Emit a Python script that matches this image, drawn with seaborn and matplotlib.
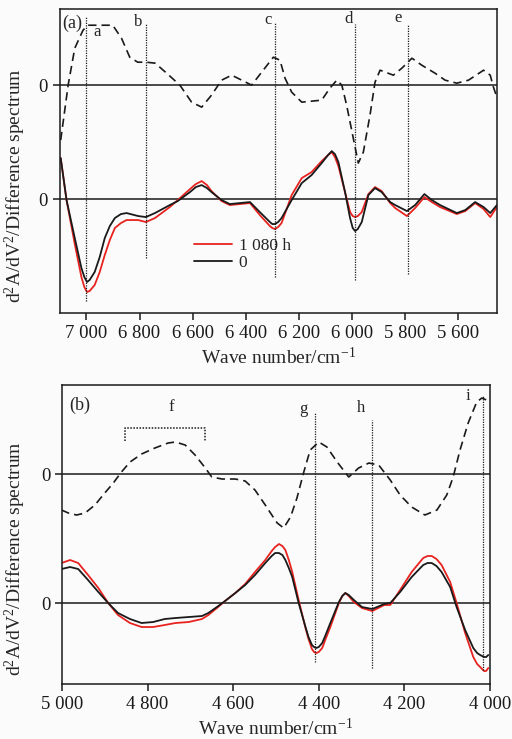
import matplotlib
matplotlib.use("Agg")
import matplotlib.pyplot as plt
import seaborn as sns
import numpy as np
from matplotlib.ticker import FuncFormatter
from matplotlib.lines import Line2D

# ---- panel (a): 7100-5450 cm-1 ----
wn_a = [7097, 7075, 7044, 7019, 7008, 6998, 6988, 6969, 6950, 6931, 6912, 6893,
        6870, 6849, 6805, 6776, 6742, 6686, 6656, 6610, 6588, 6566, 6546, 6529,
        6491, 6460, 6422, 6384, 6347, 6309, 6300, 6290, 6278, 6265, 6227, 6189,
        6152, 6114, 6090, 6076, 6064, 6051, 6026, 6007, 5997, 5988, 5978, 5963,
        5938, 5913, 5888, 5856, 5837, 5793, 5762, 5727, 5699, 5668, 5605, 5573,
        5536, 5504, 5479, 5454]
black_a = [41, -1, -39, -69, -78, -83, -81, -73, -58, -39, -27, -19,
           -15, -14, -17, -18, -14, -6, -2, 7, 12, 14, 11, 7,
           -1, -5, -4, -3, -13, -23, -25, -25, -23, -19, -1, 16,
           24, 36, 44, 48, 45, 37, 7, -19, -29, -32, -30, -23,
           4, 11, 7, -3, -6, -12, -6, 5, -1, -6, -14, -11,
           -3, -8, -14, -6]
red_a = [41, -1, -45, -78, -88, -93, -92, -86, -73, -56, -41, -29,
         -24, -21, -21, -23, -19, -8, -1, 10, 15, 18, 14, 8,
         -2, -6, -5, -4, -16, -27, -29, -30, -28, -24, 4, 21,
         27, 38, 44, 47, 42, 33, 7, -13, -17, -18, -17, -13,
         5, 12, 8, -4, -9, -17, -9, 2, -3, -8, -15, -12,
         -4, -10, -18, -8]
diff_wn_a = [7097, 7069, 7044, 7013, 6994, 6957, 6901, 6868, 6837, 6807, 6774,
             6741, 6698, 6648, 6604, 6566, 6529, 6491, 6453, 6415, 6378, 6340,
             6296, 6271, 6252, 6227, 6189, 6114, 6083, 6057, 6038, 6020, 5995,
             5976, 5957, 5932, 5913, 5894, 5844, 5812, 5774, 5737, 5687, 5649,
             5605, 5561, 5504, 5479, 5467, 5454]
diff_a = [-55, 0, 37, 55, 60, 60, 60, 47, 28, 23, 23,
          22, 12, 0, -17, -22, -10, 5, 10, 5, 0, 13,
          28, 25, 7, -7, -17, -15, -3, 5, 0, -20, -53,
          -78, -67, -30, 3, 15, 10, 17, 27, 20, 12, 5,
          2, 5, 15, 10, -2, -12]
peaks_a = ["a", "b", "c", "d", "e"]
peak_wn_a = [7000, 6776, 6289, 5987, 5788]
xticks_a = [7000, 6800, 6600, 6400, 6200, 6000, 5800, 5600]

# ---- panel (b): 5000-4000 cm-1 ----
wn_b = [5001, 4981, 4962, 4939, 4915, 4892, 4869, 4841, 4814, 4787, 4760, 4735,
        4704, 4673, 4658, 4638, 4619, 4595, 4572, 4549, 4525, 4510, 4502, 4493,
        4485, 4478, 4470, 4462, 4447, 4431, 4424, 4416, 4411, 4406, 4400, 4392,
        4385, 4373, 4353, 4345, 4338, 4330, 4318, 4299, 4275, 4247, 4233, 4210,
        4183, 4156, 4146, 4136, 4125, 4113, 4093, 4078, 4058, 4039, 4030, 4023,
        4014, 4009, 4004]
black_b = [34, 36, 34, 23, 11, 0, -10, -16, -20, -19, -16, -15,
           -14, -13, -10, -4, 2, 10, 18, 28, 40, 47, 50, 50,
           48, 43, 35, 26, 0, -24, -34, -42, -44, -45, -44, -40,
           -33, -20, 1, 7, 10, 8, 3, -4, -6, -1, 0, 11,
           26, 38, 40, 40, 37, 31, 16, -4, -27, -45, -50, -52,
           -54, -54, -52]
red_b = [40, 43, 40, 28, 15, 0, -12, -20, -24, -24, -22, -20,
         -19, -16, -12, -5, 2, 10, 19, 31, 43, 52, 56, 59,
         57, 53, 43, 31, 3, -25, -36, -46, -49, -50, -49, -45,
         -37, -24, 0, 7, 10, 7, 1, -5, -8, -2, -2, 13,
         31, 45, 47, 47, 44, 38, 21, 0, -30, -54, -61, -64,
         -68, -68, -65]
diff_wn_b = [5001, 4985, 4966, 4946, 4923, 4900, 4880, 4861, 4841, 4814, 4783,
             4752, 4735, 4712, 4689, 4665, 4650, 4626, 4595, 4572, 4549, 4525,
             4502, 4497, 4482, 4466, 4451, 4435, 4420, 4400, 4381, 4357, 4330,
             4307, 4283, 4260, 4233, 4210, 4183, 4152, 4124, 4101, 4086, 4070,
             4051, 4031, 4019, 4008, 4002]
diff_b = [-36, -39, -41, -39, -31, -19, -9, 2, 12, 20, 26,
          31, 32, 29, 19, 6, -3, -5, -5, -7, -16, -31,
          -46, -49, -54, -43, -24, 2, 24, 32, 27, 12, -3,
          6, 11, 9, -6, -21, -33, -41, -36, -21, -3, 24,
          51, 72, 76, 74, 72]
peaks_b = ["g", "h", "i"]
peak_wn_b = [4408, 4275, 4016]
band_f = [4852, 4665]
xticks_b = [5000, 4800, 4600, 4400, 4200, 4000]

RED = "#e8231f"
BG = "#fbfbfb"
YLABEL = "d$^2$A/dV$^2$/Difference spectrum"
XLABEL = "Wave number/cm$^{-1}$"


def set_style():
    sns.set_theme(style="ticks")
    plt.rcParams["font.family"] = ["Liberation Serif", "DejaVu Serif"]
    plt.rcParams["mathtext.fontset"] = "custom"
    plt.rcParams["mathtext.rm"] = "Liberation Serif"
    plt.rcParams["mathtext.it"] = "Liberation Serif:italic"
    plt.rcParams["axes.linewidth"] = 1.1


def thousands(v, pos):
    return "{:,}".format(int(v)).replace(",", " ")


def draw_panel(ax, wn, black, red, dwn, diff, offset, xlim, ylim, xticks):
    ax.set_facecolor(BG)
    ax.axhline(0, color="k", lw=1.1, zorder=1)
    ax.axhline(offset, color="k", lw=1.1, zorder=1)
    sns.lineplot(x=dwn, y=np.array(diff) + offset, ax=ax, color="k", lw=1.2,
                 linestyle=(0, (5, 3)), estimator=None, sort=False)
    sns.lineplot(x=wn, y=red, ax=ax, color=RED, lw=1.3, estimator=None, sort=False)
    sns.lineplot(x=wn, y=black, ax=ax, color="k", lw=1.3, estimator=None, sort=False)
    ax.set_xlim(*xlim)
    ax.set_ylim(*ylim)
    ax.set_xticks(xticks)
    ax.xaxis.set_major_formatter(FuncFormatter(thousands))
    ax.set_yticks([0, offset])
    ax.set_yticklabels(["0", "0"])
    ax.tick_params(direction="out", length=5, width=1.1, labelsize=13.5,
                   top=False, right=False, colors="k")
    for s in ax.spines.values():
        s.set_color("k")
        s.set_linewidth(1.1)
    ax.set_xlabel(XLABEL, fontsize=14)
    ax.set_ylabel(YLABEL, fontsize=14)


if __name__ == "__main__":
    set_style()
    fig = plt.figure(figsize=(5.12, 7.39), dpi=100, facecolor=BG)

    # panel (a)
    ax1 = fig.add_axes([0.117, 0.5765, 0.854, 0.411])
    draw_panel(ax1, wn_a, black_a, red_a, diff_wn_a, diff_a, 114,
               (7100, 5453), (-114, 190), xticks_a)
    ax1.yaxis.set_label_coords(-0.073, 0.42)
    tops_a = [183, 175, 176, 175, 174]
    bots_a = [-102, -59, -78, -81, -75]
    for lab, x, t, b in zip(peaks_a, peak_wn_a, tops_a, bots_a):
        ax1.vlines(x, b, t, colors="k", lw=0.9, linestyles=(0, (1, 1)), zorder=2)
    lab_pos_a = [(6961, 167), (6807, 177), (6316, 179), (6011, 180), (5826, 181)]
    for lab, (x, y) in zip(peaks_a, lab_pos_a):
        ax1.text(x, y, lab, fontsize=12, ha="center", va="center")
    ax1.text(7053, 176, "(a)", fontsize=13, ha="center", va="center")
    handles = [Line2D([], [], color=RED, lw=1.3), Line2D([], [], color="k", lw=1.3)]
    ax1.legend(handles, ["1 080 h", "0"], loc="upper left",
               bbox_to_anchor=(0.29, 0.27), frameon=False, fontsize=12.5,
               handlelength=2.2, labelspacing=0.05, handletextpad=0.4,
               borderaxespad=0)

    # panel (b)
    ax2 = fig.add_axes([0.121, 0.0744, 0.836, 0.4046])
    draw_panel(ax2, wn_b, black_b, red_b, diff_wn_b, diff_b, 129,
               (5000, 4000), (-81, 218), xticks_b)
    ax2.yaxis.set_label_coords(-0.079, 0.42)
    tops_b = [190, 183, 208]
    bots_b = [-59, -65, -67]
    for lab, x, t, b in zip(peaks_b, peak_wn_b, tops_b, bots_b):
        ax2.vlines(x, b, t, colors="k", lw=0.9, linestyles=(0, (1, 1)), zorder=2)
    lab_pos_b = [(4435, 194), (4301, 195), (4051, 207)]
    for lab, (x, y) in zip(peaks_b, lab_pos_b):
        ax2.text(x, y, lab, fontsize=12, ha="center", va="center")
    ax2.plot([band_f[0], band_f[0], band_f[1], band_f[1]], [162, 175, 175, 162],
             color="k", lw=1.1, linestyle=(0, (1, 1)))
    ax2.text(4745, 196, "f", fontsize=12, ha="center", va="center")
    ax2.text(4958, 198, "(b)", fontsize=13, ha="center", va="center")

    plt.savefig("out.png", dpi=100, facecolor=BG)
